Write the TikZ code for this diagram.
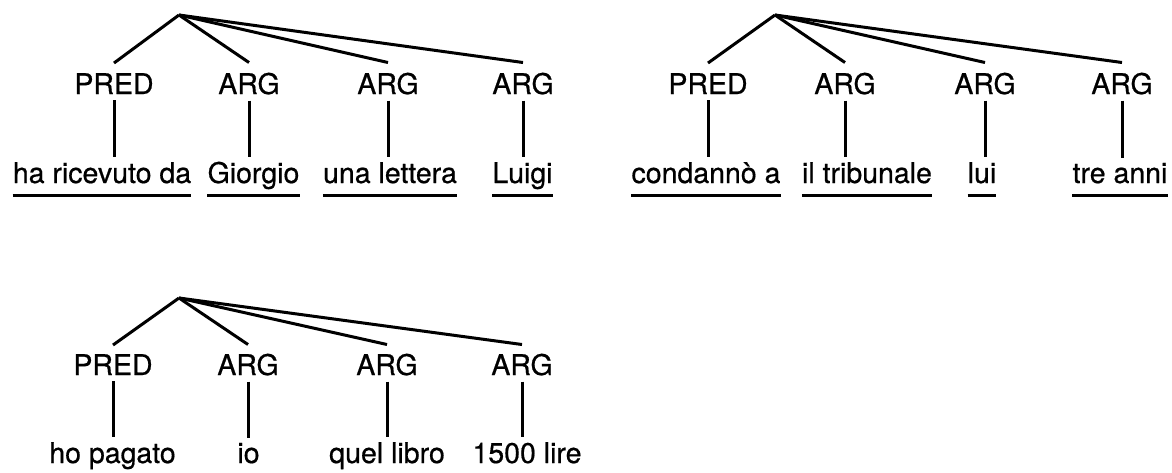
\documentclass[tikz,border=0pt]{standalone}
\usepackage{fontspec}
\setmainfont[FakeBold=0.6]{TeX Gyre Heros}
\begin{document}
\begin{tikzpicture}[x=1pt,y=-1pt,
  lab/.style={anchor=base, inner sep=0pt, font=\fontsize{28.5}{34}\selectfont},
  word/.style={lab},
  branch/.style={line width=3pt},
  stem/.style={line width=3pt},
  uline/.style={line width=3pt}]
\useasboundingbox (0,0) rectangle (1172,472);

% ---------- tree 1 (top left)
\coordinate (a1) at (179,15);
\node[lab] (a1p) at (114,94) {PRED};
\node[lab] (a1g1) at (249,94) {ARG};
\node[lab] (a1g2) at (388,94) {ARG};
\node[lab] (a1g3) at (523,94) {ARG};
\node[word] (a1w0) at (102,183) {ha ricevuto da};
\node[word] (a1w1) at (253.5,183) {Giorgio};
\node[word] (a1w2) at (390,183) {una lettera};
\node[word] (a1w3) at (522.5,183) {Luigi};
\foreach \l/\w in {a1p/a1w0,a1g1/a1w1,a1g2/a1w2,a1g3/a1w3}{
  \draw[branch] (a1) -- ([yshift=10pt]\l.north);
  \draw[stem] ([yshift=-6pt]\l.south) -- ([yshift=5pt]\l.south |- \w.north);
  \draw[uline] ([yshift=-12pt]\w.base west) -- ([yshift=-12pt]\w.base east);
}

% ---------- tree 2 (top right)
\coordinate (a2) at (775,15);
\node[lab] (a2p) at (708,94) {PRED};
\node[lab] (a2g1) at (845,94) {ARG};
\node[lab] (a2g2) at (985,94) {ARG};
\node[lab] (a2g3) at (1122,94) {ARG};
\node[word] (a2w0) at (706,183) {condannò a};
\node[word] (a2w1) at (867,183) {il tribunale};
\node[word] (a2w2) at (982,183) {lui};
\node[word] (a2w3) at (1120,183) {tre anni};
\foreach \l/\w in {a2p/a2w0,a2g1/a2w1,a2g2/a2w2,a2g3/a2w3}{
  \draw[branch] (a2) -- ([yshift=10pt]\l.north);
  \draw[stem] ([yshift=-6pt]\l.south) -- ([yshift=5pt]\l.south |- \w.north);
  \draw[uline] ([yshift=-12pt]\w.base west) -- ([yshift=-12pt]\w.base east);
}

% ---------- tree 3 (bottom left)
\coordinate (a3) at (179,298);
\node[lab] (a3p) at (113,375) {PRED};
\node[lab] (a3g1) at (248,375) {ARG};
\node[lab] (a3g2) at (387,375) {ARG};
\node[lab] (a3g3) at (522,375) {ARG};
\node[word] (a3w0) at (112.5,463) {ho pagato};
\node[word] (a3w1) at (248.5,463) {io};
\node[word] (a3w2) at (387,463) {quel libro};
\node[word] (a3w3) at (527,463) {1500 lire};
\foreach \l/\w in {a3p/a3w0,a3g1/a3w1,a3g2/a3w2,a3g3/a3w3}{
  \draw[branch] (a3) -- ([yshift=9pt]\l.north);
  \draw[stem] ([yshift=-6pt]\l.south) -- ([yshift=5pt]\l.south |- \w.north);
}
\end{tikzpicture}
\end{document}
